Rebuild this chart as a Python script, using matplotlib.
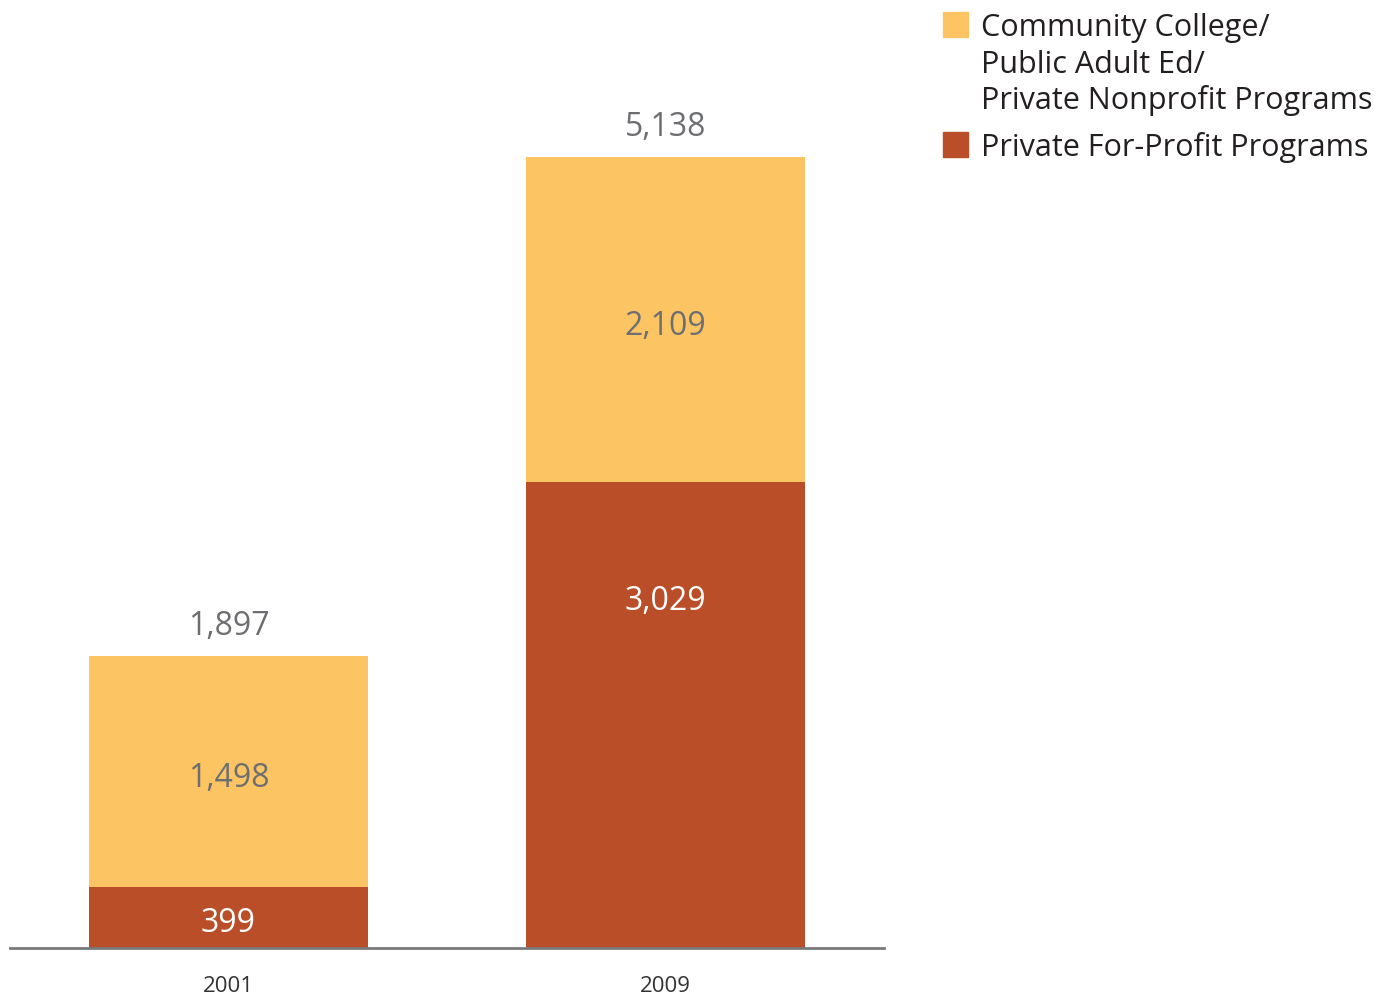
import matplotlib.pyplot as plt
from matplotlib.patches import Rectangle

plt.rcParams['font.family'] = ['Open Sans', 'DejaVu Sans']

years = ['2001', '2009']
for_profit = [399, 3029]
public_nonprofit = [1498, 2109]
series_names = ['Community College/\nPublic Adult Ed/\nPrivate Nonprofit Programs',
                'Private For-Profit Programs']

yellow = '#fcc462'
rust = '#b94e28'
gray = '#6d6e71'

W, H = 1378, 998
fig = plt.figure(figsize=(W / 100, H / 100), dpi=100)

# axes placed in pixel terms: baseline at y=948, bars 280px wide
ax = fig.add_axes([10 / W, (H - 948) / H, 874 / W, 848 / H])
x = range(len(years))
totals = [a + b for a, b in zip(for_profit, public_nonprofit)]

ax.bar(x, for_profit, width=0.64, color=rust, zorder=2)
ax.bar(x, public_nonprofit, width=0.64, bottom=for_profit, color=yellow, zorder=2)

ax.set_xlim(-0.5, 1.5)
ax.set_ylim(0, 5508)

for i in x:
    fp, pn, tot = for_profit[i], public_nonprofit[i], totals[i]
    # red segment label: centred, but kept near the top on tall segments
    y_fp = max(fp / 2 - 40, fp - 780)
    ax.text(i, y_fp, f'{fp:,}', ha='center', va='center', fontsize=23,
            color='white')
    ax.text(i, fp + pn / 2 - 45, f'{pn:,}', ha='center', va='center',
            fontsize=23, color=gray)
    ax.annotate(f'{tot:,}', (i, tot), xytext=(0, 21), textcoords='offset points',
                ha='center', va='center', fontsize=23, color=gray)

for s in ['top', 'right', 'left']:
    ax.spines[s].set_visible(False)
ax.spines['bottom'].set_color('#7a7a7a')
ax.spines['bottom'].set_linewidth(2)
ax.spines['bottom'].set_zorder(3)
ax.set_yticks([])
ax.set_xticks(list(x))
ax.set_xticklabels(years, fontsize=16, color='#333333')
ax.tick_params(axis='x', length=0, pad=20)

# legend
def fx(px):
    return px / W

def fy(py):
    return 1 - py / H

legend_rows = [(yellow, series_names[0], 12), (rust, series_names[1], 132)]
for color, label, top in legend_rows:
    fig.patches.append(Rectangle((fx(943), fy(top + 25)), 25 / W, 25 / H,
                                 transform=fig.transFigure, color=color))
baselines = [[36, 73, 109], [156]]
for (color, label, top), bl in zip(legend_rows, baselines):
    for line, b in zip(label.split('\n'), bl):
        fig.text(fx(981), fy(b), line, ha='left', va='baseline', fontsize=22,
                 color='#231f20')

fig.savefig('out.png', dpi=100)
